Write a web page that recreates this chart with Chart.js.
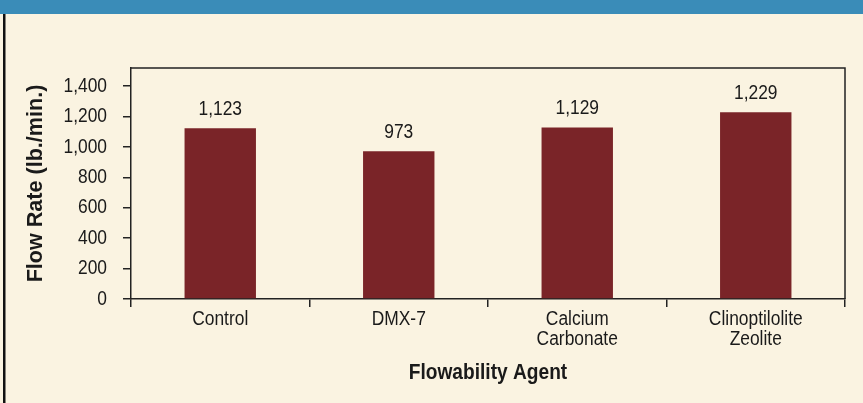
<!DOCTYPE html>
<html>
<head>
<meta charset="utf-8">
<script src="https://cdn.jsdelivr.net/npm/chart.js@4"></script>
<style>
  html, body { margin: 0; padding: 0; background: #faf3e1; }
  #wrap { width: 863px; height: 403px; }
</style>
</head>
<body>
<div id="wrap"><canvas id="chart" width="863" height="403"></canvas></div>
<script>
// data
var agents = [["Control"], ["DMX-7"], ["Calcium", "Carbonate"], ["Clinoptilolite", "Zeolite"]];
var flowRates = [1123, 973, 1129, 1229];
var yTicks = [0, 200, 400, 600, 800, 1000, 1200, 1400];
var xTitle = "Flowability Agent";
var yTitle = "Flow Rate (lb./min.)";

var FONT = "'Liberation Sans', Arial, sans-serif";
var INK = "#1a1a1a";
var NARROW = 0.87; // no condensed face installed, so squeeze Liberation Sans

var canvas = document.getElementById("chart");
var c2d = canvas.getContext("2d");

// the y title is printed wider in the original than the rest of the text
function squeeze(text) {
    return text === yTitle ? 0.98 : NARROW;
}

// squeeze all text horizontally so it looks like the condensed face of the original
var rawFill = c2d.fillText.bind(c2d);
var rawMeasure = c2d.measureText.bind(c2d);
c2d.fillText = function(text, x, y) {
    c2d.save();
    c2d.translate(x, y);
    c2d.scale(squeeze(text), 1);
    rawFill(text, 0, 0);
    c2d.restore();
};
c2d.measureText = function(text) {
    var m = rawMeasure(text);
    var k = squeeze(text);
    return {
        width: m.width * k,
        actualBoundingBoxAscent: m.actualBoundingBoxAscent,
        actualBoundingBoxDescent: m.actualBoundingBoxDescent,
        actualBoundingBoxLeft: m.actualBoundingBoxLeft * k,
        actualBoundingBoxRight: m.actualBoundingBoxRight * k
    };
};

// background, blue header band, left rule, plot frame and value labels
var decor = {
    id: "decor",
    beforeDraw: function(chart) {
        var ctx = chart.ctx;
        ctx.save();
        ctx.fillStyle = "#faf3e1";
        ctx.fillRect(0, 0, chart.width, chart.height);
        ctx.fillStyle = "#3a8cb8";
        ctx.fillRect(0, 0, chart.width, 14);
        ctx.fillStyle = "#111";
        ctx.fillRect(3, 14, 2.5, chart.height - 14);
        ctx.restore();
    },
    afterDraw: function(chart) {
        var ctx = chart.ctx;
        var a = chart.chartArea;
        ctx.save();
        ctx.strokeStyle = "#222";
        ctx.lineWidth = 1.5;
        ctx.beginPath();
        ctx.moveTo(a.left, a.top);
        ctx.lineTo(a.right, a.top);
        ctx.lineTo(a.right, a.bottom);
        ctx.stroke();

        ctx.fillStyle = INK;
        ctx.font = "20px " + FONT;
        ctx.textAlign = "center";
        ctx.textBaseline = "alphabetic";
        var meta = chart.getDatasetMeta(0);
        meta.data.forEach(function(bar, i) {
            ctx.fillText(flowRates[i].toLocaleString("en-US"), bar.x, bar.y - 13);
        });
        ctx.restore();
    }
};

new Chart(canvas, {
    type: "bar",
    data: {
        labels: agents,
        datasets: [{
            data: flowRates,
            backgroundColor: "#7a2428",
            borderWidth: 0,
            barPercentage: 0.4,
            categoryPercentage: 1.0
        }]
    },
    options: {
        responsive: false,
        animation: false,
        layout: { padding: { top: 68, right: 18, bottom: 10, left: 12 } },
        plugins: { legend: { display: false }, tooltip: { enabled: false } },
        scales: {
            x: {
                offset: true,
                grid: { offset: true, drawOnChartArea: false, drawTicks: true, tickLength: 8, color: "#222", lineWidth: 1.5 },
                border: { color: "#222", width: 1.5 },
                ticks: { color: INK, padding: 2, maxRotation: 0, autoSkip: false, font: { family: FONT, size: 20, lineHeight: 1.0 } },
                title: { display: true, text: xTitle, color: INK, padding: { top: 0, bottom: 8 }, font: { family: FONT, size: 22, weight: "bold", lineHeight: 1.1 } },
                afterFit: function(scale) { scale.height = 94; }
            },
            y: {
                min: 0,
                max: 1520,
                afterBuildTicks: function(scale) {
                    scale.ticks = yTicks.map(function(v) { return { value: v }; });
                },
                grid: { drawOnChartArea: false, drawTicks: true, tickLength: 8, color: "#222", lineWidth: 1.5 },
                border: { color: "#222", width: 1.5 },
                ticks: {
                    color: INK, padding: 16,
                    font: { family: FONT, size: 20 },
                    callback: function(v) { return Number(v).toLocaleString("en-US"); }
                },
                title: { display: true, text: yTitle, color: INK, padding: { top: 12, bottom: 0 }, font: { family: FONT, size: 22, weight: "bold", lineHeight: 1.1 } },
                afterFit: function(scale) { scale.width = 119; }
            }
        }
    },
    plugins: [decor]
});
</script>
</body>
</html>
